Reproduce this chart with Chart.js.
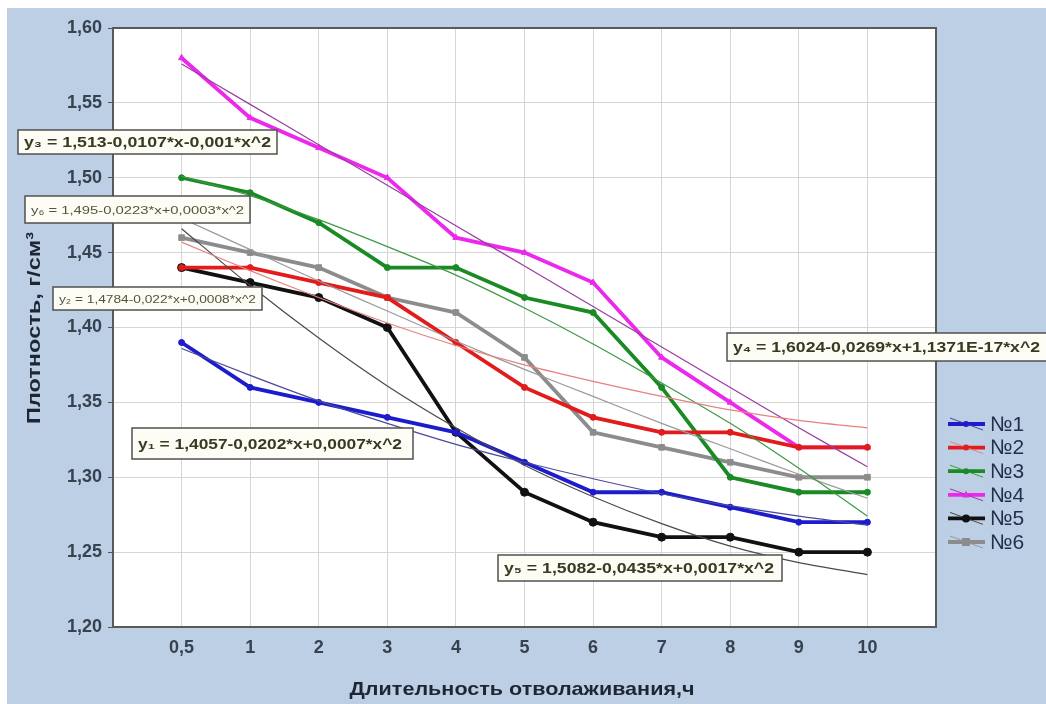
<!DOCTYPE html>
<html>
<head>
<meta charset="utf-8">
<script src="https://cdn.jsdelivr.net/npm/chart.js@4.4.1/dist/chart.umd.min.js"></script>
<style>
  html, body { margin: 0; padding: 0; background: #fff; }
  #wrap { width: 1046px; height: 704px; position: relative; }
</style>
</head>
<body>
<div id="wrap"><canvas id="chart"></canvas></div>
<script>
// Categories (x axis) and measured densities
const categories = ['0,5', '1', '2', '3', '4', '5', '6', '7', '8', '9', '10'];
const seriesNames = ['№1', '№2', '№3', '№4', '№5', '№6'];

const s1 = [1.39, 1.36, 1.35, 1.34, 1.33, 1.31, 1.29, 1.29, 1.28, 1.27, 1.27];
const s2 = [1.44, 1.44, 1.43, 1.42, 1.39, 1.36, 1.34, 1.33, 1.33, 1.32, 1.32];
const s3 = [1.50, 1.49, 1.47, 1.44, 1.44, 1.42, 1.41, 1.36, 1.30, 1.29, 1.29];
const s4 = [1.58, 1.54, 1.52, 1.50, 1.46, 1.45, 1.43, 1.38, 1.35, 1.32, 1.32];
const s5 = [1.44, 1.43, 1.42, 1.40, 1.33, 1.29, 1.27, 1.26, 1.26, 1.25, 1.25];
const s6 = [1.46, 1.45, 1.44, 1.42, 1.41, 1.38, 1.33, 1.32, 1.31, 1.30, 1.30];

// Fitted trend lines (thin), read at each category
const t1 = [1.386, 1.368, 1.351, 1.336, 1.322, 1.310, 1.299, 1.289, 1.281, 1.274, 1.268];
const t2 = [1.457, 1.438, 1.420, 1.403, 1.388, 1.375, 1.364, 1.354, 1.345, 1.338, 1.333];
const t3 = [1.501, 1.488, 1.472, 1.454, 1.435, 1.413, 1.389, 1.363, 1.336, 1.306, 1.274];
const t4 = [1.576, 1.549, 1.522, 1.495, 1.468, 1.441, 1.414, 1.387, 1.360, 1.333, 1.307];
const t5 = [1.466, 1.428, 1.393, 1.361, 1.333, 1.308, 1.287, 1.269, 1.254, 1.243, 1.235];
const t6 = [1.473, 1.452, 1.431, 1.411, 1.391, 1.372, 1.354, 1.336, 1.319, 1.302, 1.286];

// Equation labels
const eqLabels = [
    'y₃ = 1,513-0,0107*x-0,001*x^2',
    'y₆ = 1,495-0,0223*x+0,0003*x^2',
    'y₂ = 1,4784-0,022*x+0,0008*x^2',
    'y₄ = 1,6024-0,0269*x+1,1371E-17*x^2',
    'y₁ = 1,4057-0,0202*x+0,0007*x^2',
    'y₅ = 1,5082-0,0435*x+0,0017*x^2'
];

const xTitle = 'Длительность отволаживания,ч';
const yTitle = 'Плотность, г/см³';

const FONT = "'Liberation Sans', Arimo, Arial, sans-serif";

const mainColors = ['#1c1ccc', '#e21c1c', '#1a8a24', '#ec28ec', '#111111', '#8c8c8c'];
const trendColors = ['#4a4a9a', '#e88080', '#3d9a44', '#9a3ca0', '#4a4a4a', '#9a9a9a'];
const pointStyles = ['circle', 'circle', 'circle', 'triangle', 'circle', 'rect'];
const pointRadii = [3, 3, 3, 3.5, 4, 4];

const mainSeries = [s1, s2, s3, s4, s5, s6];
const trendSeries = [t1, t2, t3, t4, t5, t6];

const toPoints = arr => arr.map((v, i) => ({ x: i + 1, y: v }));

const datasets = [];
trendSeries.forEach((arr, i) => {
    datasets.push({
        label: 'trend ' + seriesNames[i],
        data: toPoints(arr),
        borderColor: trendColors[i],
        borderWidth: 1.2,
        pointRadius: 0,
        tension: 0.3,
        order: 0
    });
});
mainSeries.forEach((arr, i) => {
    datasets.push({
        label: seriesNames[i],
        data: toPoints(arr),
        borderColor: mainColors[i],
        backgroundColor: mainColors[i],
        borderWidth: 3.8,
        pointStyle: pointStyles[i],
        pointRadius: pointRadii[i],
        pointBorderWidth: 1,
        tension: 0,
        order: 1
    });
});

// Draws text squeezed/stretched to a target width
function fitText(ctx, text, x, y, width, font, color) {
    ctx.save();
    ctx.font = font;
    ctx.fillStyle = color;
    ctx.textBaseline = 'middle';
    const w = ctx.measureText(text).width;
    ctx.translate(x, y);
    ctx.scale(width / w, 1);
    ctx.fillText(text, 0, 0);
    ctx.restore();
}

function drawMarker(ctx, style, r, x, y, color) {
    ctx.fillStyle = color;
    ctx.beginPath();
    if (style === 'rect') {
        ctx.rect(x - r, y - r, r * 2, r * 2);
    } else if (style === 'triangle') {
        ctx.moveTo(x, y - r * 1.2);
        ctx.lineTo(x + r, y + r * 0.8);
        ctx.lineTo(x - r, y + r * 0.8);
        ctx.closePath();
    } else {
        ctx.arc(x, y, r, 0, Math.PI * 2);
    }
    ctx.fill();
}

const decor = {
    id: 'decor',
    beforeDraw(chart) {
        const { ctx, chartArea: a } = chart;
        ctx.save();
        ctx.fillStyle = '#ffffff';
        ctx.fillRect(0, 0, chart.width, chart.height);
        ctx.fillStyle = '#bdcfe5';
        ctx.fillRect(7, 8, chart.width - 7, chart.height - 8);
        ctx.fillStyle = '#ffffff';
        ctx.fillRect(a.left, a.top, a.right - a.left, a.bottom - a.top);
        ctx.restore();
    },
    afterDraw(chart) {
        const { ctx, chartArea: a } = chart;
        ctx.save();
        // plot frame
        ctx.strokeStyle = '#5a5a5a';
        ctx.lineWidth = 2;
        ctx.strokeRect(a.left, a.top, a.right - a.left, a.bottom - a.top);

        // axis titles (under the equation boxes)
        const xw = 345;
        fitText(ctx, xTitle, 522 - xw / 2, 690, xw, 'bold 19px ' + FONT, '#1e2633');
        ctx.save();
        ctx.translate(35, 328);
        ctx.rotate(-Math.PI / 2);
        const yw = 192;
        fitText(ctx, yTitle, -yw / 2, 0, yw, 'bold 19px ' + FONT, '#1e2633');
        ctx.restore();

        // equation boxes
        const boxes = [
            { x: 18, y: 130, w: 259, h: 24, size: 15, bold: true, tw: 247 },
            { x: 25, y: 196, w: 225, h: 27, size: 11, bold: false, tw: 213 },
            { x: 53, y: 287, w: 209, h: 23, size: 11, bold: false, tw: 197 },
            { x: 727, y: 333, w: 330, h: 28, size: 15, bold: true, tw: 307 },
            { x: 132, y: 428, w: 281, h: 31, size: 15, bold: true, tw: 264 },
            { x: 498, y: 555, w: 284, h: 26, size: 15, bold: true, tw: 270 }
        ];
        boxes.forEach((b, i) => {
            ctx.fillStyle = '#fdfdf6';
            ctx.fillRect(b.x, b.y, b.w, b.h);
            ctx.strokeStyle = '#505050';
            ctx.lineWidth = 1.5;
            ctx.strokeRect(b.x, b.y, b.w, b.h);
            const font = (b.bold ? 'bold ' : '') + b.size + 'px ' + FONT;
            fitText(ctx, eqLabels[i], b.x + 6, b.y + b.h / 2 + 1, b.tw, font, b.bold ? '#3a3a22' : '#55553a');
        });

        // legend
        seriesNames.forEach((name, i) => {
            const y = 424 + i * 23.6;
            ctx.strokeStyle = mainColors[i];
            ctx.lineWidth = 3.8;
            ctx.beginPath();
            ctx.moveTo(948, y);
            ctx.lineTo(985, y);
            ctx.stroke();
            ctx.strokeStyle = trendColors[i];
            ctx.lineWidth = 1;
            ctx.beginPath();
            ctx.moveTo(950, y - 6);
            ctx.lineTo(983, y + 6);
            ctx.stroke();
            drawMarker(ctx, pointStyles[i], pointRadii[i], 966, y, mainColors[i]);
            ctx.font = '21px ' + FONT;
            ctx.fillStyle = '#22304e';
            ctx.textBaseline = 'middle';
            ctx.fillText(name, 990, y + 1);
        });
        ctx.restore();
    }
};

const chart = new Chart(document.getElementById('chart'), {
    type: 'line',
    data: { datasets },
    plugins: [decor],
    options: {
        responsive: true,
        maintainAspectRatio: false,
        animation: false,
        layout: { padding: { left: 0, top: 28, right: 110, bottom: 0 } },
        plugins: {
            legend: { display: false },
            tooltip: { enabled: false }
        },
        scales: {
            x: {
                type: 'linear',
                min: 0,
                max: 12,
                afterFit: scale => { scale.height = 77; },
                afterBuildTicks: scale => {
                    scale.ticks = Array.from({ length: 13 }, (_, i) => ({ value: i }));
                },
                ticks: {
                    autoSkip: false,
                    maxRotation: 0,
                    padding: 10,
                    color: '#36424f',
                    font: { family: FONT, size: 18, weight: 'bold' },
                    callback: v => categories[v - 1] ?? ''
                },
                grid: { color: '#d6d6d6', lineWidth: 1, drawTicks: false },
                border: { display: false }
            },
            y: {
                min: 1.2,
                max: 1.6,
                afterFit: scale => { scale.width = 113; },
                ticks: {
                    stepSize: 0.05,
                    padding: 6,
                    color: '#36424f',
                    font: { family: FONT, size: 18, weight: 'bold' },
                    callback: v => Number(v).toFixed(2).replace('.', ',')
                },
                grid: { color: '#d6d6d6', lineWidth: 1, tickLength: 5, tickColor: '#555' },
                border: { display: false }
            }
        }
    }
});
</script>
</body>
</html>
